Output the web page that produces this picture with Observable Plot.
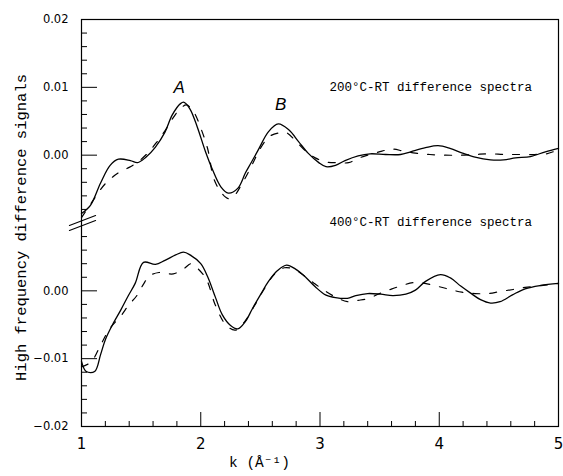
<!DOCTYPE html>
<html>
<head>
<meta charset="utf-8">
<script src="https://cdn.jsdelivr.net/npm/d3@7"></script>
<script src="https://cdn.jsdelivr.net/npm/@observablehq/plot@0.6"></script>
<style>
  html, body { margin: 0; padding: 0; background: #fff; }
</style>
</head>
<body>
<div id="chart"></div>
<script>
// ---- Data (k in Å^-1, signal in panel-local units) ----
// 200°C-RT difference spectra (upper panel)
const kSolid200 = [1.00,1.075,1.16,1.24,1.31,1.41,1.47,1.54,1.62,1.70,1.76,1.83,1.86,1.91,1.97,2.04,2.10,2.17,2.23,2.31,2.375,2.42,2.48,2.57,2.65,2.74,2.82,2.90,2.99,3.05,3.13,3.21,3.32,3.42,3.55,3.675,3.76,3.885,3.99,4.09,4.195,4.30,4.43,4.54,4.64,4.765,4.89,5.00];
const vSolid200 = [-0.0086,-0.0074,-0.0041,-0.0015,-0.0006,-0.0008,-0.0011,-0.0003,0.0012,0.0034,0.0059,0.0076,0.0078,0.0068,0.0042,0.0005,-0.0022,-0.0047,-0.0056,-0.0049,-0.0026,-0.0012,0.0007,0.0035,0.0046,0.0037,0.0020,0.0003,-0.0011,-0.0017,-0.0015,-0.0008,-0.0001,0.0002,0.0001,0.0001,0.0005,0.0011,0.0014,0.0010,0.0003,-0.0003,-0.0007,-0.0007,-0.0004,-0.0002,0.0005,0.0010];
const kDash200 = [1.00,1.10,1.20,1.31,1.40,1.48,1.56,1.63,1.70,1.76,1.82,1.88,1.94,2.00,2.06,2.11,2.18,2.23,2.28,2.34,2.42,2.50,2.58,2.66,2.72,2.80,2.88,2.96,3.05,3.15,3.24,3.33,3.42,3.52,3.60,3.70,3.80,3.92,4.05,4.18,4.30,4.42,4.55,4.67,4.80,4.90,5.00];
const vDash200 = [-0.0092,-0.0066,-0.0042,-0.0026,-0.0018,-0.0009,0.0004,0.0019,0.0036,0.0053,0.0067,0.0074,0.0064,0.0040,0.0008,-0.0035,-0.0057,-0.0064,-0.0060,-0.0044,-0.0018,0.0010,0.0028,0.0033,0.0033,0.0020,0.0006,-0.0004,-0.0010,-0.0011,-0.0011,-0.0004,0.0001,0.0006,0.0009,0.0006,0.0003,0.0001,0.0000,0.0000,0.0001,0.0002,0.0001,0.0001,0.0001,0.0002,0.0008];
// 400°C-RT difference spectra (lower panel)
const kSolid400 = [1.00,1.04,1.11,1.16,1.20,1.26,1.33,1.39,1.45,1.52,1.62,1.70,1.79,1.855,1.91,2.00,2.057,2.124,2.18,2.25,2.31,2.375,2.434,2.50,2.568,2.644,2.72,2.795,2.88,2.96,3.046,3.13,3.23,3.30,3.40,3.51,3.61,3.72,3.80,3.885,4.01,4.094,4.18,4.26,4.346,4.43,4.51,4.614,4.72,4.85,5.00];
const vSolid400 = [-0.0104,-0.0119,-0.0119,-0.0094,-0.0072,-0.0050,-0.0028,-0.0008,0.0011,0.0042,0.0039,0.0045,0.0053,0.0057,0.0053,0.0040,0.0021,-0.0010,-0.0035,-0.0051,-0.0056,-0.0045,-0.0026,-0.0006,0.0014,0.0030,0.0038,0.0032,0.0020,0.0006,-0.0006,-0.0010,-0.0011,-0.0007,-0.0004,-0.0005,-0.0007,-0.0005,0.0001,0.0014,0.0024,0.0019,0.0007,-0.0003,-0.0013,-0.0018,-0.0016,-0.0006,0.0003,0.0008,0.0011];
const kDash400 = [1.00,1.08,1.16,1.24,1.33,1.40,1.46,1.52,1.57,1.65,1.77,1.86,1.92,1.98,2.05,2.12,2.21,2.29,2.37,2.45,2.53,2.62,2.70,2.78,2.87,2.96,3.05,3.14,3.23,3.32,3.41,3.50,3.59,3.69,3.78,3.88,3.98,4.09,4.19,4.30,4.41,4.51,4.62,4.72,4.82,4.92,5.00];
const vDash400 = [-0.0112,-0.0105,-0.0080,-0.0055,-0.0037,-0.0020,-0.0008,0.0010,0.0022,0.0027,0.0025,0.0033,0.0040,0.0032,0.0016,-0.0020,-0.0050,-0.0058,-0.0045,-0.0022,0.0002,0.0025,0.0034,0.0032,0.0022,0.0010,-0.0001,-0.0010,-0.0016,-0.0014,-0.0011,-0.0004,0.0002,0.0008,0.0012,0.0011,0.0007,0.0002,-0.0002,-0.0004,-0.0004,-0.0001,0.0002,0.0005,0.0007,0.0009,0.0011];

// Tick values
const xLabelTicks = [1, 2, 3, 4, 5];
const xMajorTicks = [2, 3, 4];
const xMinorTicks = [1.2,1.4,1.6,1.8,2.2,2.4,2.6,2.8,3.2,3.4,3.6,3.8,4.2,4.4,4.6,4.8];
// combined axis: lower panel [-0.02, 0.01), upper panel shifted by +0.02
const panelShift = 0.02;
const breakAt = 0.01;
const yLabelTicks = [-0.02, -0.01, 0, 0.02, 0.03, 0.04];
const yMajorTicks = [-0.01, 0, 0.02, 0.03];
const yMinorTicks = d3.range(-10, 21).map(i => +(i * 0.002).toFixed(4))
  .filter(v => Math.abs(v - breakAt) > 1e-9 && !yLabelTicks.some(t => Math.abs(t - v) < 1e-9));

const label200 = "200°C-RT difference spectra";
const label400 = "400°C-RT difference spectra";
const peakLabels = ["A", "B"];
const yTitle = "High frequency difference signals";
const xTitle = "k (Å⁻¹)";

function series(ks, vs, shift) { return ks.map((k, i) => ({k, v: vs[i] + shift})); }
const s200 = series(kSolid200, vSolid200, panelShift);
const d200 = series(kDash200, vDash200, panelShift);
const s400 = series(kSolid400, vSolid400, 0);
const d400 = series(kDash400, vDash400, 0);

const fmt = d3.format(".2f");
const yFmt = c => fmt(c >= breakAt ? c - panelShift : c);

const lineShape = {draw(context, l) { context.moveTo(0, 0); context.lineTo(0, -l); }};
const mono = "Liberation Mono, DejaVu Sans Mono, monospace";

const chart = Plot.plot({
  width: 563,
  height: 476,
  marginLeft: 81,
  marginRight: 5,
  marginTop: 19,
  marginBottom: 50,
  x: {domain: [1, 5]},
  y: {domain: [-0.02, 0.04]},
  style: {background: "white", color: "black", fontFamily: "DejaVu Sans, sans-serif"},
  marks: [
    Plot.frame({stroke: "black", strokeWidth: 1.2}),
    // y axis ticks (inward)
    Plot.axisY(yMinorTicks, {tickSize: -6, tickFormat: () => "", label: null, stroke: "black"}),
    Plot.axisY(yMajorTicks, {tickSize: -16, tickFormat: () => "", label: null, stroke: "black"}),
    Plot.axisY(yLabelTicks, {tickSize: 0, tickPadding: 13, tickFormat: yFmt, label: null, fontSize: 11.5}),
    // x axis ticks (inward)
    Plot.axisX(xMinorTicks, {tickSize: -5, tickFormat: () => "", label: null, stroke: "black"}),
    Plot.axisX(xMajorTicks, {tickSize: -14, tickFormat: () => "", label: null, stroke: "black"}),
    Plot.axisX(xLabelTicks, {tickSize: 0, tickPadding: 12, tickFormat: d => String(d), label: null, fontSize: 15}),
    // axis break marks
    Plot.vector([breakAt], {x: () => 1, y: d => d, length: 28, rotate: 69, anchor: "middle", shape: lineShape, dx: 1, dy: -2.5, stroke: "black", strokeWidth: 1.1}),
    Plot.vector([breakAt], {x: () => 1, y: d => d, length: 28, rotate: 69, anchor: "middle", shape: lineShape, dx: 1, dy: 2.5, stroke: "black", strokeWidth: 1.1}),
    // curves
    Plot.line(d200, {x: "k", y: "v", curve: "catmull-rom", stroke: "black", strokeWidth: 1.2, strokeDasharray: "7,10"}),
    Plot.line(s200, {x: "k", y: "v", curve: "catmull-rom", stroke: "black", strokeWidth: 1.3}),
    Plot.line(d400, {x: "k", y: "v", curve: "catmull-rom", stroke: "black", strokeWidth: 1.2, strokeDasharray: "7,10"}),
    Plot.line(s400, {x: "k", y: "v", curve: "catmull-rom", stroke: "black", strokeWidth: 1.3}),
    // annotations
    Plot.text([label200], {x: () => 3.08, y: () => 0.0301, text: d => d, textAnchor: "start", fontFamily: mono, fontSize: 12.5, fill: "black"}),
    Plot.text([label400], {x: () => 3.08, y: () => 0.0101, text: d => d, textAnchor: "start", fontFamily: mono, fontSize: 12.5, fill: "black"}),
    Plot.text([peakLabels[0]], {x: () => 1.82, y: () => 0.0300, text: d => d, fontFamily: "Liberation Sans, sans-serif", fontStyle: "italic", fontSize: 17, fill: "black"}),
    Plot.text([peakLabels[1]], {x: () => 2.67, y: () => 0.0275, text: d => d, fontFamily: "Liberation Sans, sans-serif", fontStyle: "italic", fontSize: 17, fill: "black"}),
    // axis titles
    Plot.text([yTitle], {frameAnchor: "left", dx: -60, dy: 4.5, rotate: -90, textAnchor: "middle", text: d => d, fontFamily: mono, fontSize: 15.5, fill: "black"}),
    Plot.text([xTitle], {frameAnchor: "bottom", dx: -91, dy: 40, textAnchor: "start", text: d => d, fontFamily: mono, fontSize: 14.5, fill: "black"})
  ]
});
document.getElementById("chart").appendChild(chart);
</script>
</body>
</html>
